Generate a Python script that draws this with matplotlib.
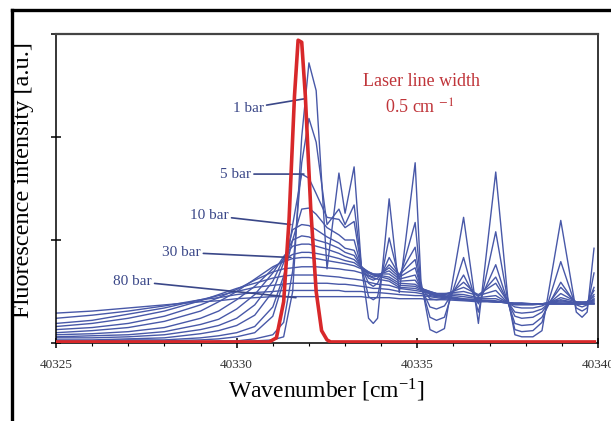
import matplotlib
matplotlib.use("Agg")
import matplotlib.pyplot as plt
from matplotlib.ticker import MultipleLocator
from matplotlib.lines import Line2D

plt.rcParams['font.family'] = ['Liberation Serif', 'DejaVu Serif']
plt.rcParams['mathtext.fontset'] = 'stix'

# wavenumber grid shared by the pressure series
wn = [40325.0, 40326.0, 40327.0, 40328.0, 40329.0, 40329.5, 40330.0, 40330.5,
      40331.0, 40331.3, 40331.55, 40331.8, 40332.0, 40332.2, 40332.5, 40332.83,
      40333.0, 40333.25, 40333.45, 40333.65, 40333.78, 40333.9, 40334.22, 40334.5,
      40334.94, 40335.1, 40335.35, 40335.53, 40335.75, 40336.28, 40336.69, 40337.17,
      40337.5, 40337.7, 40337.89, 40338.2, 40338.45, 40338.97, 40339.4, 40339.56,
      40339.7, 40339.89]

# fluorescence spectra, low pressure (1 bar) -> high pressure (80 bar)
spec_00 = [0, 0, 0, 0, 0.01, 0.01, 0.01, 0.02, 0.03, 0.06, 0.5, 2.0, 2.72, 2.45, 0.72, 1.65,
           1.26, 1.71, 0.75, 0.24, 0.19, 0.24, 1.40, 0.49, 1.75, 0.60, 0.13, 0.10, 0.14, 1.22,
           0.19, 1.66, 0.45, 0.08, 0.06, 0.06, 0.12, 1.19, 0.30, 0.25, 0.30, 0.92]
spec_01 = [0, 0, 0, 0.01, 0.01, 0.02, 0.02, 0.04, 0.08, 0.2, 0.7, 1.75, 2.18, 1.95, 1.15, 1.30,
           1.15, 1.34, 0.75, 0.45, 0.42, 0.45, 1.02, 0.62, 1.17, 0.56, 0.25, 0.22, 0.25, 0.83,
           0.30, 1.08, 0.42, 0.13, 0.11, 0.12, 0.20, 0.79, 0.34, 0.31, 0.34, 0.68]
spec_02 = [0.01, 0.01, 0.02, 0.02, 0.03, 0.04, 0.06, 0.1, 0.26, 0.6, 1.15, 1.64, 1.6, 1.45, 1.22, 1.2,
           1.12, 1.18, 0.74, 0.58, 0.55, 0.58, 0.83, 0.66, 0.93, 0.54, 0.35, 0.33, 0.36, 0.66,
           0.38, 0.76, 0.40, 0.19, 0.17, 0.18, 0.25, 0.59, 0.37, 0.35, 0.37, 0.54]
spec_03 = [0.02, 0.02, 0.03, 0.03, 0.05, 0.07, 0.1, 0.16, 0.35, 0.65, 1.0, 1.3, 1.31, 1.25, 1.12, 1.05,
           1.0, 1.0, 0.74, 0.63, 0.61, 0.63, 0.76, 0.66, 0.81, 0.54, 0.43, 0.42, 0.43, 0.59,
           0.45, 0.64, 0.40, 0.26, 0.24, 0.25, 0.30, 0.54, 0.39, 0.38, 0.39, 0.51]
spec_04 = [0.03, 0.03, 0.04, 0.05, 0.09, 0.12, 0.17, 0.27, 0.5, 0.78, 1.1, 1.15, 1.14, 1.1, 1.03, 0.97,
           0.92, 0.9, 0.74, 0.66, 0.64, 0.65, 0.73, 0.64, 0.73, 0.54, 0.47, 0.46, 0.47, 0.54,
           0.47, 0.58, 0.40, 0.30, 0.29, 0.30, 0.33, 0.48, 0.40, 0.39, 0.40, 0.47]
spec_05 = [0.05, 0.05, 0.06, 0.08, 0.13, 0.17, 0.24, 0.37, 0.6, 0.82, 1.0, 1.04, 1.03, 1.0, 0.97, 0.92,
           0.88, 0.85, 0.74, 0.68, 0.66, 0.66, 0.70, 0.62, 0.66, 0.53, 0.49, 0.48, 0.48, 0.50,
           0.46, 0.51, 0.39, 0.35, 0.34, 0.34, 0.36, 0.44, 0.40, 0.40, 0.40, 0.45]
spec_06 = [0.06, 0.07, 0.08, 0.11, 0.18, 0.23, 0.33, 0.47, 0.68, 0.84, 0.94, 0.96, 0.96, 0.94, 0.91, 0.87,
           0.84, 0.81, 0.74, 0.69, 0.67, 0.67, 0.67, 0.60, 0.61, 0.53, 0.50, 0.48, 0.48, 0.47,
           0.44, 0.46, 0.39, 0.37, 0.37, 0.37, 0.38, 0.42, 0.39, 0.39, 0.39, 0.43]
spec_07 = [0.08, 0.09, 0.11, 0.15, 0.24, 0.31, 0.42, 0.55, 0.72, 0.81, 0.86, 0.88, 0.88, 0.87, 0.85, 0.82,
           0.80, 0.78, 0.73, 0.69, 0.67, 0.66, 0.64, 0.58, 0.57, 0.53, 0.50, 0.48, 0.47, 0.45,
           0.43, 0.43, 0.39, 0.38, 0.38, 0.38, 0.38, 0.41, 0.39, 0.39, 0.39, 0.42]
spec_08 = [0.10, 0.12, 0.15, 0.21, 0.31, 0.40, 0.50, 0.62, 0.74, 0.79, 0.82, 0.83, 0.83, 0.82, 0.80, 0.78,
           0.77, 0.75, 0.72, 0.68, 0.66, 0.65, 0.62, 0.56, 0.55, 0.52, 0.49, 0.47, 0.46, 0.43,
           0.42, 0.41, 0.39, 0.38, 0.38, 0.38, 0.38, 0.40, 0.39, 0.39, 0.39, 0.41]
spec_09 = [0.13, 0.15, 0.19, 0.26, 0.37, 0.44, 0.52, 0.61, 0.69, 0.72, 0.73, 0.74, 0.74, 0.74, 0.73, 0.72,
           0.71, 0.70, 0.68, 0.65, 0.63, 0.62, 0.60, 0.54, 0.53, 0.51, 0.48, 0.46, 0.45, 0.42,
           0.41, 0.40, 0.39, 0.38, 0.38, 0.38, 0.38, 0.39, 0.38, 0.38, 0.38, 0.40]
spec_10 = [0.16, 0.19, 0.24, 0.31, 0.41, 0.47, 0.53, 0.58, 0.63, 0.65, 0.66, 0.66, 0.66, 0.66, 0.65, 0.64,
           0.63, 0.62, 0.61, 0.59, 0.58, 0.57, 0.56, 0.53, 0.51, 0.50, 0.48, 0.46, 0.45, 0.42,
           0.41, 0.40, 0.39, 0.38, 0.38, 0.38, 0.38, 0.38, 0.38, 0.38, 0.38, 0.39]
spec_11 = [0.19, 0.22, 0.28, 0.34, 0.42, 0.46, 0.50, 0.54, 0.56, 0.57, 0.58, 0.58, 0.58, 0.58, 0.58, 0.57,
           0.57, 0.56, 0.55, 0.54, 0.53, 0.53, 0.52, 0.50, 0.49, 0.48, 0.46, 0.45, 0.44, 0.42,
           0.41, 0.40, 0.39, 0.38, 0.38, 0.38, 0.38, 0.38, 0.38, 0.38, 0.38, 0.38]
spec_12 = [0.24, 0.27, 0.31, 0.36, 0.42, 0.44, 0.47, 0.49, 0.50, 0.51, 0.51, 0.51, 0.51, 0.51, 0.51, 0.51,
           0.50, 0.50, 0.50, 0.49, 0.49, 0.49, 0.48, 0.47, 0.46, 0.46, 0.45, 0.44, 0.43, 0.42,
           0.41, 0.40, 0.39, 0.38, 0.38, 0.38, 0.38, 0.38, 0.38, 0.38, 0.38, 0.38]
spec_13 = [0.29, 0.31, 0.34, 0.37, 0.40, 0.41, 0.43, 0.44, 0.45, 0.45, 0.45, 0.45, 0.45, 0.45, 0.45, 0.45,
           0.45, 0.45, 0.45, 0.44, 0.44, 0.44, 0.44, 0.43, 0.43, 0.43, 0.42, 0.42, 0.42, 0.41,
           0.40, 0.40, 0.39, 0.39, 0.39, 0.38, 0.38, 0.38, 0.38, 0.38, 0.38, 0.38]

# laser line profile
laser_wn = [40325.0, 40330.9, 40331.1, 40331.3, 40331.45, 40331.6, 40331.7, 40331.8, 40331.9,
            40332.05, 40332.2, 40332.35, 40332.5, 40332.6, 40339.9]
laser_y = [0.01, 0.01, 0.05, 0.4, 1.2, 2.4, 2.94, 2.92, 2.4, 1.3, 0.5, 0.12, 0.03, 0.01, 0.01]

# pressure labels: text, text position, leader end
labels = ['1 bar', '5 bar', '10 bar', '30 bar', '80 bar']
label_xy = [(40330.75, 2.28), (40330.4, 1.64), (40329.78, 1.24), (40329.0, 0.88), (40327.65, 0.60)]
label_end = [(40331.86, 2.37), (40331.86, 1.64), (40331.5, 1.15), (40331.5, 0.83), (40331.64, 0.44)]

blue = '#4858a8'
red = '#d8282a'

fig = plt.figure(figsize=(6.11, 4.21), dpi=100)
ax = fig.add_axes([0.0917, 0.1853, 0.887, 0.7339])

for s in [spec_00, spec_01, spec_02, spec_03, spec_04, spec_05, spec_06,
          spec_07, spec_08, spec_09, spec_10, spec_11, spec_12, spec_13]:
    ax.plot(wn, s, color=blue, lw=1.0)

ax.plot(laser_wn, laser_y, color=red, lw=2.6, zorder=5)

for t, xy, end in zip(labels, label_xy, label_end):
    ax.annotate(t, xy=end, xytext=xy, ha='right', va='center', fontsize=11,
                color='#3a4788',
                arrowprops=dict(arrowstyle='-', color='#3a4788', lw=1.2,
                                shrinkA=0, shrinkB=0))

ax.text(0.675, 0.845, 'Laser line width', transform=ax.transAxes, ha='center',
        va='center', fontsize=13, color='#c0353a')
ax.text(0.672, 0.76, r'0.5 cm $^{-1}$', transform=ax.transAxes, ha='center',
        va='center', fontsize=13, color='#c0353a')

ax.set_xlim(40325, 40340)
ax.set_ylim(0, 3)
ax.set_xticks([40325, 40330, 40335, 40340])
ax.set_xticklabels(['40325', '40330', '40335', '40340'], fontsize=9.5, color='#333333')
ax.xaxis.set_minor_locator(MultipleLocator(1))
ax.set_yticks([0, 1, 2, 3])
ax.set_yticklabels([])
ax.tick_params(axis='both', which='major', direction='inout', length=7, width=1.1, pad=8)
ax.tick_params(axis='x', which='minor', direction='out', length=2.5, width=0.8)
for side in ['left', 'bottom', 'right']:
    ax.spines[side].set_linewidth(1.1)
ax.spines['top'].set_color('#444444')
ax.spines['top'].set_linewidth(1.6)

ax.set_xlabel(r'Wavenumber [cm$^{\mathregular{-1}}$]', fontsize=17, labelpad=4)
ax.set_ylabel('Fluorescence intensity [a.u.]', fontsize=17.5)
ax.yaxis.set_label_coords(-0.040, 0.527)

# outer frame of the figure (only left and top edges visible)
fig.add_artist(Line2D([12 / 611, 12 / 611], [0, 1 - 10 / 421], color='black', lw=2.4))
fig.add_artist(Line2D([12 / 611, 1], [1 - 10 / 421, 1 - 10 / 421], color='black', lw=2.4))

fig.savefig('out.png', dpi=100)
